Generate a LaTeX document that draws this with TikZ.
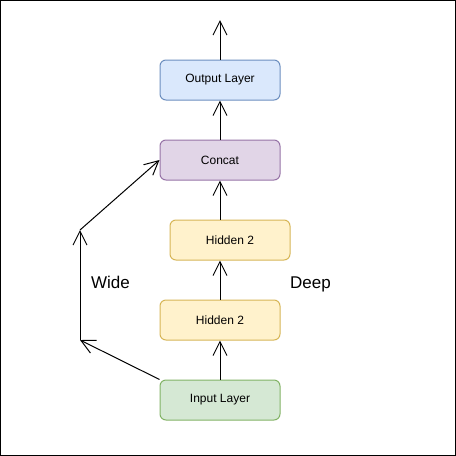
\documentclass[tikz,border=0pt]{standalone}
\usepackage{fontspec}
\setmainfont{Liberation Sans}
\usetikzlibrary{arrows.meta}
\definecolor{outfill}{HTML}{DAE8FC}
\definecolor{outline}{HTML}{6C8EBF}
\definecolor{catfill}{HTML}{E1D5E7}
\definecolor{catline}{HTML}{9673A6}
\definecolor{hidfill}{HTML}{FFF2CC}
\definecolor{hidline}{HTML}{D6B656}
\definecolor{infill}{HTML}{D5E8D4}
\definecolor{inline}{HTML}{82B366}

\begin{document}
\begin{tikzpicture}[
    x=1pt, y=-1pt,
    layer/.style={line width=1pt, rounded corners=6pt, minimum width=120pt,
                  minimum height=40pt, inner sep=0pt,
                  font=\fontsize{12}{14}\selectfont},
    outbox/.style={layer, fill=outfill, draw=outline},
    catbox/.style={layer, fill=catfill, draw=catline},
    hidbox/.style={layer, fill=hidfill, draw=hidline},
    inbox/.style={layer, fill=infill, draw=inline},
    flow/.style={draw=black, line width=1pt,
                 -{Straight Barb[length=14pt, width=14pt, line width=1pt]}},
    side/.style={anchor=base, font=\fontsize{17}{20}\selectfont},
  ]
  \useasboundingbox (0,0) rectangle (456,456);
  \draw[line width=1pt] (0.5,0.5) rectangle (455.5,455.5);
  % layers
  \node[outbox] (output) at (220,80) {Output Layer};
  \node[catbox] (concat) at (220,160) {Concat};
  \node[hidbox] (hidtwo) at (230,240) {Hidden 2};
  \node[hidbox] (hidone) at (220,320) {Hidden 2};
  \node[inbox] (input) at (220,400) {Input Layer};
  \coordinate (top) at (220,20);
  \coordinate (widelow) at (80,340);
  \coordinate (widehigh) at (80,230);
  % deep part
  \draw[flow] (input) -- (hidone);
  \draw[flow] (hidone.north) -- (hidone.north |- hidtwo.south);
  \draw[flow] (concat.south |- hidtwo.north) -- (concat);
  \draw[flow] (concat) -- (output);
  \draw[flow] (output) -- (top);
  % wide part
  \draw[flow] (input.north west) -- (widelow);
  \draw[flow] (widelow) -- (widehigh);
  \draw[flow] (widehigh) -- (concat.west);
  \node[side] (wide) at (110.5,288) {Wide};
  \node[side] (deep) at (310.5,288) {Deep};
\end{tikzpicture}
\end{document}
